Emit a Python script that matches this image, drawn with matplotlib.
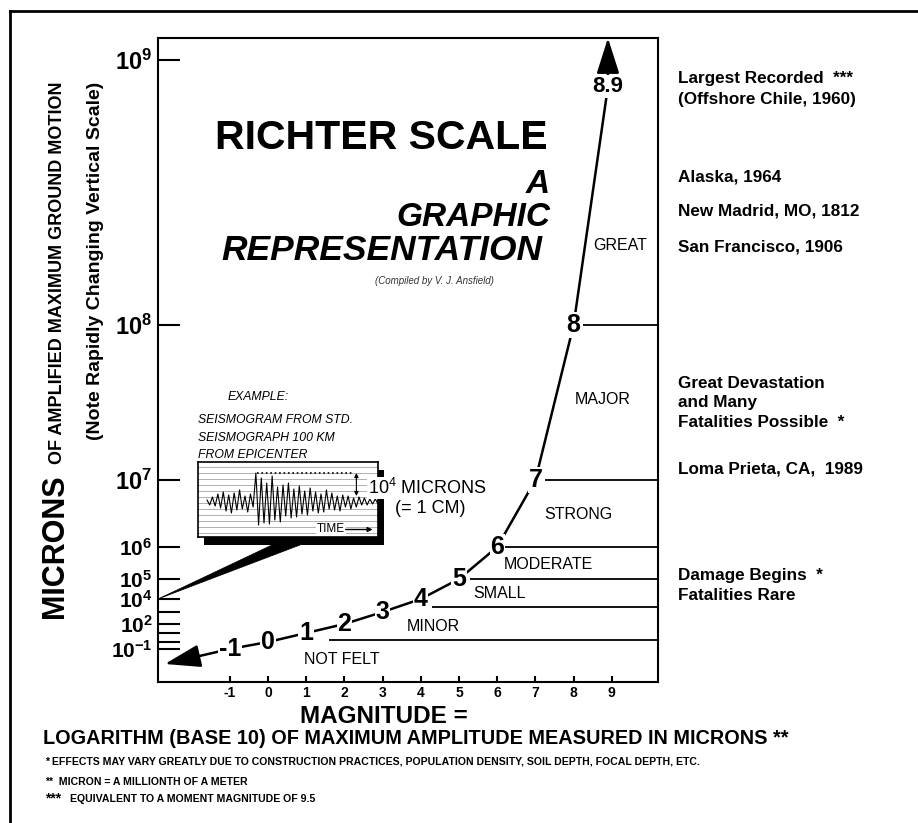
import numpy as np
import matplotlib
matplotlib.use('Agg')
import matplotlib.pyplot as plt
from matplotlib import font_manager as fm
from matplotlib.patches import Rectangle, Polygon
from matplotlib.lines import Line2D

# magnitudes marked along the curve (x = magnitude, y = log10 of amplitude)
magnitudes = [-1, 0, 1, 2, 3, 4, 5, 6, 7, 8, 8.9]
curve_labels = ['-1', '0', '1', '2', '3', '4', '5', '6', '7', '8', '8.9']

classes = ['NOT FELT', 'MINOR', 'SMALL', 'MODERATE', 'STRONG', 'MAJOR', 'GREAT']
# class boundaries as drawn: log10 level and magnitude where the line starts
bound_level = [0.2, 3.4, 5.0, 6.0, 7.0, 8.0]
bound_start = [1.6, 4.3, 5.3, 6.15, 7.25, 8.25]

x_ticks = [-1, 0, 1, 2, 3, 4, 5, 6, 7, 8, 9]
y_ticks = [-1, 0, 1, 2, 3, 4, 5, 6, 7, 8, 9]
y_labeled = [-1, 2, 4, 5, 6, 7, 8, 9]

right_notes = ['Largest Recorded  ***', '(Offshore Chile, 1960)', 'Alaska, 1964',
               'New Madrid, MO, 1812', 'San Francisco, 1906', 'Great Devastation',
               'and Many', 'Fatalities Possible  *', 'Loma Prieta, CA,  1989',
               'Damage Begins  *', 'Fatalities Rare']

# hand-read wiggles of the example seismogram
trace = [0.2, -0.3, 0.5, -0.4, 0.8, -0.6, 1.0, -0.9, 0.7, -1.1, 0.9, -0.8, 1.2, -0.7,
         0.6, -1.0, 0.8, -0.5, 2.9, -2.3, 2.4, -2.1, 1.9, -2.2, 2.6, -1.8, 1.5, -2.0,
         1.7, -1.4, 1.9, -1.6, 1.3, -1.5, 1.6, -1.2, 1.1, -1.3, 1.4, -0.9, 1.0, -1.1,
         0.8, -1.0, 1.2, -0.7, 0.9, -0.8, 0.6, -0.9, 0.7, -0.5, 0.6, -0.7, 0.4, -0.5,
         0.5, -0.3, 0.4, -0.3, 0.3, -0.2, 0.3, -0.2]

# the "rapidly changing vertical scale" of the drawing (log10 level -> height)
scale_log = [-10, -1, 0, 1, 2, 3, 4, 5, 6, 7, 8, 9, 12]
scale_h = [-30, 33, 40, 49, 58, 70, 83, 103, 135, 202, 357, 622, 1417]

names = {f.name for f in fm.fontManager.ttflist}
SANS = 'Liberation Sans' if 'Liberation Sans' in names else 'DejaVu Sans'
NARROW = 'Liberation Sans Narrow' if 'Liberation Sans Narrow' in names else None
plt.rcParams['font.family'] = SANS
plt.rcParams['mathtext.fontset'] = 'custom'
plt.rcParams['mathtext.rm'] = SANS
plt.rcParams['mathtext.bf'] = SANS + ':bold'
plt.rcParams['mathtext.it'] = SANS + ':italic'

W, H = 918, 823
fig = plt.figure(figsize=(W / 100, H / 100), dpi=100)


def fx(x, y):
    return x / W, 1 - y / H


def ftext(x, y, s, **kw):
    return fig.text(x / W, 1 - y / H, s, **kw)


# outer frame (left and top edges)
fig.add_artist(Line2D([10 / W, 10 / W], [0, 1 - 11 / H], color='k', lw=2))
fig.add_artist(Line2D([10 / W, 1], [1 - 11 / H, 1 - 11 / H], color='k', lw=2))

ax = fig.add_axes([158 / W, 1 - 682 / H, 500 / W, 644 / H])


def fwd(v):
    return np.interp(v, scale_log, scale_h)


def inv(v):
    return np.interp(v, scale_h, scale_log)


ax.set_yscale('function', functions=(fwd, inv))
ax.set_ylim(inv(0), inv(644))
ax.set_xlim(-2.88, 10.21)
x0, x1 = ax.get_xlim()
y0, y1 = ax.get_ylim()

ax.plot(magnitudes, magnitudes, color='k', lw=1.8, zorder=2)
for m, lab in zip(magnitudes, curve_labels):
    ax.text(m, m, lab, ha='center', va='center', fontweight='bold',
            fontsize=16 if lab == '8.9' else 18, zorder=3,
            bbox=dict(fc='white', ec='none', pad=0.6))

arrow = dict(arrowstyle='-|>,head_length=1.1,head_width=0.35', mutation_scale=20,
             lw=1.8, color='k', shrinkA=0, shrinkB=0)
ax.annotate('', xy=(-2.7, -3.14), xytext=(magnitudes[0], magnitudes[0]),
            arrowprops=arrow, zorder=2)
ax.annotate('', xy=(magnitudes[-1], y1), xytext=(magnitudes[-1], magnitudes[-1]),
            arrowprops=arrow, zorder=2)

ax.hlines(bound_level, bound_start, x1, color='k', lw=1.3)

class_pos = [(1.94, -2.57), (4.32, 1.67), (6.07, 4.25), (7.33, 5.44),
             (8.12, 6.48), (8.77, 7.52), (9.21, 8.30)]
for name, (cx, cy) in zip(classes, class_pos):
    ax.text(cx, cy, name, ha='center', va='center', fontsize=11.5)

ax.set_xticks(x_ticks, [str(t) for t in x_ticks])
ytl = []
for t in y_ticks:
    ytl.append(r'$\mathbf{10^{%d}}$' % t if t in y_labeled else '')
ax.set_yticks(y_ticks, ytl)
ax.yaxis.set_minor_locator(matplotlib.ticker.NullLocator())
ax.tick_params(axis='y', direction='in', length=16, width=1.5, pad=4)
ax.tick_params(axis='x', direction='in', length=4, width=1.5, pad=3,
               labelsize=10)
for lbl in ax.get_xticklabels():
    lbl.set_fontweight('bold')
for t, lbl in zip(y_ticks, ax.get_yticklabels()):
    lbl.set_fontsize(17 if t >= 7 else 15)
for s in ax.spines.values():
    s.set_linewidth(1.5)

# title block
ftext(215, 149, 'RICHTER SCALE', fontsize=29.5, fontweight='bold')
ftext(550, 193, 'A', fontsize=24, fontweight='bold', style='italic', ha='right')
ftext(550, 226, 'GRAPHIC', fontsize=24, fontweight='bold', style='italic', ha='right')
ftext(542, 260, 'REPRESENTATION', fontsize=25.5, fontweight='bold', style='italic',
      ha='right')
ftext(434, 284, '(Compiled by V. J. Ansfield)', fontsize=7, style='italic',
      ha='center', color='#333333')

# vertical axis title
ftext(63, 618, 'MICRONS', fontsize=22, fontweight='bold', rotation=90,
      rotation_mode='anchor', ha='left', va='baseline')
ftext(62, 464, 'OF AMPLIFIED MAXIMUM GROUND MOTION', fontsize=13, fontweight='bold',
      rotation=90, rotation_mode='anchor', ha='left', va='baseline')
ftext(100, 440, '(Note Rapidly Changing Vertical Scale)', fontsize=14,
      fontweight='bold', rotation=90, rotation_mode='anchor', ha='left',
      va='baseline')

# right-hand notes
note_y = [83, 104, 181, 215, 251, 388, 407, 427, 473, 580, 600]
for s, y in zip(right_notes, note_y):
    ftext(678, y, s, fontsize=12.3, fontweight='bold')

# bottom text
ftext(300, 723, 'MAGNITUDE =', fontsize=17.5, fontweight='bold')
ftext(43, 744, 'LOGARITHM (BASE 10) OF MAXIMUM AMPLITUDE MEASURED IN MICRONS **',
      fontsize=14.3, fontweight='bold')
ftext(45, 765, '* EFFECTS MAY VARY GREATLY DUE TO CONSTRUCTION PRACTICES, '
      'POPULATION DENSITY, SOIL DEPTH, FOCAL DEPTH, ETC.', fontsize=7.6,
      fontweight='bold')
ftext(45, 785, '**  MICRON = A MILLIONTH OF A METER', fontsize=7.6, fontweight='bold')
ftext(45, 802, '***', fontsize=10, fontweight='bold')
ftext(70, 802, 'EQUIVALENT TO A MOMENT MAGNITUDE OF 9.5', fontsize=7.6,
      fontweight='bold')

# seismogram example
it_font = NARROW if NARROW else SANS
it_size = 10.5 if NARROW else 8.8
ftext(228, 400, 'EXAMPLE:', fontsize=it_size, family=it_font, style='italic')
ftext(198, 423, 'SEISMOGRAM FROM STD.', fontsize=it_size, family=it_font,
      style='italic')
ftext(198, 441, 'SEISMOGRAPH 100 KM', fontsize=it_size, family=it_font,
      style='italic')
ftext(198, 458, 'FROM EPICENTER', fontsize=it_size, family=it_font, style='italic')

fig.add_artist(Rectangle(fx(204, 545), 180 / W, 75 / H, fc='k', ec='none',
                         transform=fig.transFigure, zorder=2))
tip = fig.transFigure.inverted().transform(ax.transData.transform((x0, 4)))
fig.add_artist(Polygon([tip, fx(272, 545), fx(300, 545)], closed=True, fc='k',
                       ec='k', lw=0.5, transform=fig.transFigure, zorder=2))

ins = fig.add_axes([198 / W, 1 - 537 / H, 180 / W, 75 / H], zorder=3)
ins.set_xlim(0, 100)
ins.set_ylim(-3.5, 4.0)
ins.set_xticks([])
ins.set_yticks([])
for s in ins.spines.values():
    s.set_linewidth(1.2)
for lv in np.arange(-3.1, 3.7, 0.6):
    ins.axhline(lv, color='#b0b0b0', lw=0.7, zorder=1)
ins.plot(np.linspace(5, 100, len(trace)), trace, color='k', lw=0.8, zorder=2)
ins.hlines(2.9, 33, 86, colors='k', linestyles=':', lw=1.2, zorder=2)
ins.annotate('', xy=(88, 0.6), xytext=(88, 2.9),
             arrowprops=dict(arrowstyle='<|-|>', mutation_scale=6, lw=0.8,
                             color='k', shrinkA=0, shrinkB=0))
ins.text(74, -2.75, 'TIME', fontsize=(10 if NARROW else 8.5),
         family=it_font, ha='center', va='center', zorder=3,
         bbox=dict(fc='white', ec='none', pad=0.5))
ins.annotate('', xy=(97, -2.75), xytext=(82, -2.75),
             arrowprops=dict(arrowstyle='-|>', mutation_scale=7, lw=1.0,
                             color='k', shrinkA=0, shrinkB=0))

ftext(368, 494, '$10^4$ MICRONS', fontsize=13, zorder=5,
      bbox=dict(fc='white', ec='none', pad=0.5))
ftext(430, 513, '(= 1 CM)', fontsize=13, ha='center', zorder=5)

fig.savefig('out.png', dpi=100, facecolor='white')
